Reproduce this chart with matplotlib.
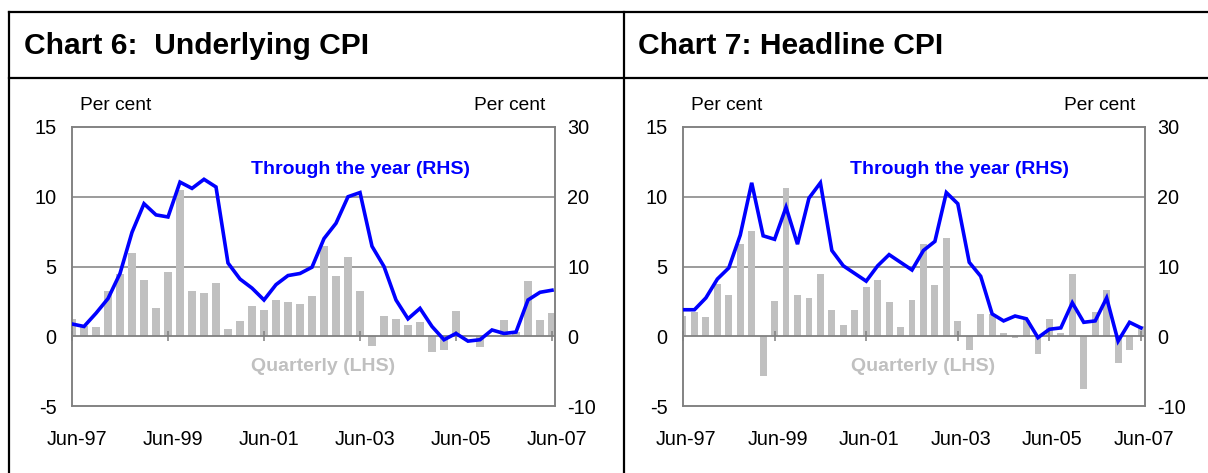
import numpy as np
import matplotlib
matplotlib.use("Agg")
import matplotlib.pyplot as plt
from matplotlib.lines import Line2D
from matplotlib.transforms import ScaledTranslation

plt.rcParams['font.family'] = ['Liberation Sans', 'DejaVu Sans']

# ---------------- data ----------------
tick_labels = ["Jun-97", "Jun-99", "Jun-01", "Jun-03", "Jun-05", "Jun-07"]

underlying_quarterly = [1.24, 0.75, 0.67, 3.24, 4.48, 5.95, 4.05, 2.02, 4.6, 10.5,
                        3.24, 3.1, 3.79, 0.55, 1.1, 2.14, 1.9, 2.57, 2.43, 2.33,
                        2.86, 6.48, 4.33, 5.71, 3.24, -0.71, 1.48, 1.24, 0.83, 1.0,
                        -1.12, -0.95, 1.79, 0.1, -0.8, 0.1, 1.2, 0.3, 3.93, 1.2, 1.65]
underlying_tty = [1.76, 1.4, 3.3, 5.4, 9.0, 14.9, 19.0, 17.4, 17.1, 22.1,
                  21.2, 22.5, 21.4, 10.5, 8.2, 6.9, 5.2, 7.4, 8.7, 9.0,
                  9.9, 14.0, 16.2, 20.0, 20.6, 12.9, 10.0, 5.2, 2.5, 4.0,
                  1.4, -0.5, 0.4, -0.7, -0.5, 0.9, 0.4, 0.6, 5.2, 6.3, 6.6]

headline_quarterly = [1.48, 1.71, 1.36, 3.76, 2.98, 6.62, 7.55, -2.86, 2.55, 10.64,
                      2.98, 2.71, 4.45, 1.86, 0.8, 1.9, 3.52, 4.05, 2.43, 0.67,
                      2.57, 6.62, 3.69, 7.02, 1.07, -1.0, 1.62, 1.62, 0.2, -0.15,
                      1.2, -1.28, 1.22, 0.24, 4.46, -3.81, 1.76, 3.35, -1.95, -0.98, 0.75]
headline_tty = [3.8, 3.8, 5.5, 8.2, 9.8, 14.5, 22.0, 14.4, 13.9, 18.5,
                13.2, 19.8, 22.0, 12.3, 10.1, 9.0, 7.9, 10.1, 11.7, 10.6,
                9.5, 12.3, 13.6, 20.6, 19.0, 10.6, 8.6, 3.2, 2.2, 2.9,
                2.5, -0.2, 1.0, 1.2, 4.8, 2.0, 2.2, 5.5, -0.7, 2.0, 1.2]

titles = ["Chart 6:  Underlying CPI", "Chart 7: Headline CPI"]

# ---------------- styling ----------------
W, H = 1208, 473
GRAY = '#808080'
BAR = '#c0c0c0'
BLUE = '#0000ff'

fig = plt.figure(figsize=(W / 100, H / 100), dpi=100)


def fx(px):
    return px / W


def fy(py):
    return 1 - py / H


# frame lines
for (x0, y0, x1, y1) in [(9, 12, W, 12), (9, 78, W, 78), (9, 12, 9, H), (624, 12, 624, H)]:
    fig.add_artist(Line2D([fx(x0), fx(x1)], [fy(y0), fy(y1)], color='black', lw=1.6,
                          transform=fig.transFigure))

panels = [
    dict(left=72, right=555, quarterly=underlying_quarterly, tty=underlying_tty,
         title=titles[0], title_x=24, xmax=40.25, lab_shift=5),
    dict(left=683, right=1145, quarterly=headline_quarterly, tty=headline_tty,
         title=titles[1], title_x=638, xmax=40.35, lab_shift=3),
]

top_px, bot_px = 127, 406
tick_pos = [8 * k for k in range(len(tick_labels))]

for p in panels:
    fig.text(fx(p['title_x']), fy(46), p['title'], fontsize=21.6, fontweight='bold',
             ha='left', va='center', color='black')

    ax = fig.add_axes([fx(p['left']), fy(bot_px), fx(p['right'] - p['left']),
                       (bot_px - top_px) / H])
    x = np.arange(len(p['quarterly']))
    ax.set_xlim(0, p['xmax'])
    ax.set_ylim(-5, 15)
    ax.set_yticks([-5, 0, 5, 10, 15])
    ax.set_yticklabels(['-5', '0', '5', '10', '15'])
    for y in [5, 10]:
        ax.axhline(y, color=GRAY, lw=1.1, zorder=0.5)
    ax.bar(x, p['quarterly'], width=0.6, color=BAR, zorder=1)
    ax.axhline(0, color=GRAY, lw=1.3, zorder=2)
    ax.plot(tick_pos, [0] * len(tick_pos), ls='none', marker='|', ms=7, mew=1.1,
            color=GRAY, zorder=2, clip_on=False)
    ax.set_xticks(tick_pos)
    ax.set_xticklabels(tick_labels)
    ax.tick_params(axis='x', length=0, pad=17, labelsize=14.3)
    ax.tick_params(axis='y', length=0, pad=11, labelsize=14.3)
    off = ScaledTranslation(p['lab_shift'] / 100, 0, fig.dpi_scale_trans)
    for lab in ax.get_xticklabels():
        lab.set_transform(lab.get_transform() + off)
    for sp in ax.spines.values():
        sp.set_color(GRAY)
        sp.set_linewidth(1.1)

    ax2 = ax.twinx()
    ax2.set_ylim(-10, 30)
    ax2.set_yticks([-10, 0, 10, 20, 30])
    ax2.set_yticklabels(['-10', '0', '10', '20', '30'])
    ax2.tick_params(axis='y', length=0, pad=9, labelsize=14.3)
    for sp in ax2.spines.values():
        sp.set_color(GRAY)
        sp.set_linewidth(1.1)
    ax2.plot(x, p['tty'], color=BLUE, lw=2.6, solid_joinstyle='miter', zorder=3)

    ax.text(0.598, 0.846, 'Through the year (RHS)', transform=ax.transAxes,
            ha='center', va='center', fontsize=14, fontweight='bold', color=BLUE)
    ax.text(0.519, 0.143, 'Quarterly (LHS)', transform=ax.transAxes,
            ha='center', va='center', fontsize=14, fontweight='bold', color=BAR)

    fig.text(fx(p['left'] + 8), fy(106), 'Per cent', fontsize=13.8, ha='left', va='center')
    fig.text(fx(p['right'] - 10), fy(106), 'Per cent', fontsize=13.8, ha='right', va='center')

fig.savefig('out.png', dpi=100)
